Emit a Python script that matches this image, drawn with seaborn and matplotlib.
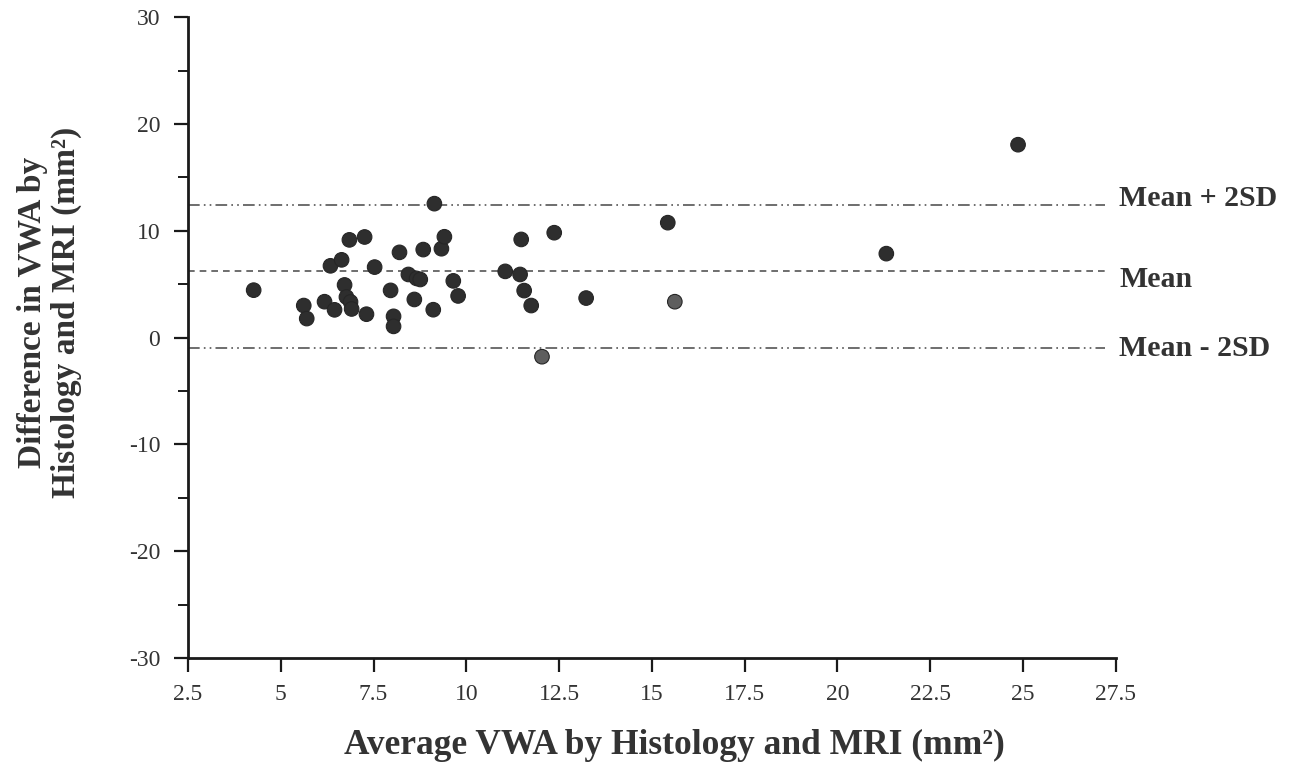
import matplotlib
matplotlib.use('Agg')
import matplotlib.pyplot as plt
import seaborn as sns
import pandas as pd

# Bland-Altman style data
avg_vwa = [4.27, 5.62, 5.70, 6.18, 6.34, 6.64, 6.45, 6.72, 6.77, 6.88, 6.85, 6.91,
           7.26, 7.31, 7.53, 7.96, 8.04, 8.04, 8.20, 8.44, 8.66, 8.76, 8.60, 8.84,
           9.11, 9.14, 9.33, 9.41, 9.65, 9.78, 11.05, 11.45, 11.48, 11.56, 11.75,
           12.04, 12.37, 13.23, 15.43, 15.62, 21.32, 24.87]
diff_vwa = [4.44, 3.00, 1.78, 3.36, 6.72, 7.28, 2.60, 4.93, 3.80, 3.34, 9.15, 2.68,
            9.42, 2.19, 6.60, 4.42, 1.99, 1.05, 7.98, 5.91, 5.54, 5.44, 3.57, 8.24,
            2.61, 12.54, 8.32, 9.44, 5.31, 3.90, 6.20, 5.91, 9.19, 4.40, 3.00,
            -1.79, 9.82, 3.70, 10.76, 3.36, 7.86, 18.06]
shade = ['dark'] * 35 + ['light'] + ['dark'] * 3 + ['light'] + ['dark'] * 2

line_names = ['Mean + 2SD', 'Mean', 'Mean - 2SD']
line_values = [12.4, 6.2, -1.0]

x_ticks = [2.5, 5, 7.5, 10, 12.5, 15, 17.5, 20, 22.5, 25, 27.5]
x_ticklabels = ['2.5', '5', '7.5', '10', '12.5', '15', '17.5', '20', '22.5', '25', '27.5']
y_ticks = [-30, -20, -10, 0, 10, 20, 30]

df = pd.DataFrame({'avg': avg_vwa, 'diff': diff_vwa, 'shade': shade})

sns.set_style('ticks')
plt.rcParams['font.family'] = ['Liberation Serif', 'DejaVu Serif']
plt.rcParams['axes.unicode_minus'] = False

fig = plt.figure(figsize=(12.92, 7.81), dpi=100)
ax = fig.add_axes([0.1455, 0.1575, 0.718, 0.8205])

sns.scatterplot(data=df, x='avg', y='diff', hue='shade',
                palette={'dark': '#2e2e2e', 'light': '#5e5e5e'},
                s=110, edgecolor='#262626', linewidth=0.8, legend=False, ax=ax, zorder=3)

# reference lines
styles = [(0, (7, 2.5, 1, 2.5, 1, 2.5)), (0, (4, 3)), (0, (7, 2.5, 1, 2.5, 1, 2.5))]
offsets = [5, -6, 0]
for name, val, ls, off in zip(line_names, line_values, styles, offsets):
    ax.plot([2.5, 27.2], [val, val], color='#555555', lw=1.2, linestyle=ls, zorder=2)
    ax.annotate(name, xy=(27.6, val), xytext=(0, off), textcoords='offset points',
                ha='left', va='center', fontsize=21.5, fontweight='bold',
                color='#333333', annotation_clip=False)

ax.set_xlim(2.5, 27.5)
ax.set_ylim(-30, 30)
ax.set_xticks(x_ticks)
ax.set_xticklabels(x_ticklabels)
ax.set_yticks(y_ticks)
ax.set_yticks([-25, -15, -5, 5, 15, 25], minor=True)
ax.set_xlabel('')
ax.set_ylabel('')

sns.despine(ax=ax)
for side in ['left', 'bottom']:
    ax.spines[side].set_linewidth(2)
    ax.spines[side].set_color('#1a1a1a')
ax.tick_params(axis='both', which='major', direction='out', length=10, width=1.6,
               labelsize=17, colors='#1a1a1a', labelcolor='#333333')
ax.tick_params(axis='x', pad=9)
ax.tick_params(axis='y', pad=10)
ax.tick_params(axis='y', which='minor', direction='out', length=7, width=1.4, color='#1a1a1a')

fig.text(0.038, 1 - 312 / 781, 'Difference in VWA by\nHistology and MRI (mm²)',
         rotation=90, ha='center', va='center', fontsize=24, fontweight='bold',
         color='#333333', linespacing=1.12, multialignment='center')
fig.text(0.522, 1 - 745 / 781, 'Average VWA by Histology and MRI (mm²)',
         ha='center', va='center', fontsize=25.5, fontweight='bold', color='#333333')

fig.savefig('out.png', dpi=100)
